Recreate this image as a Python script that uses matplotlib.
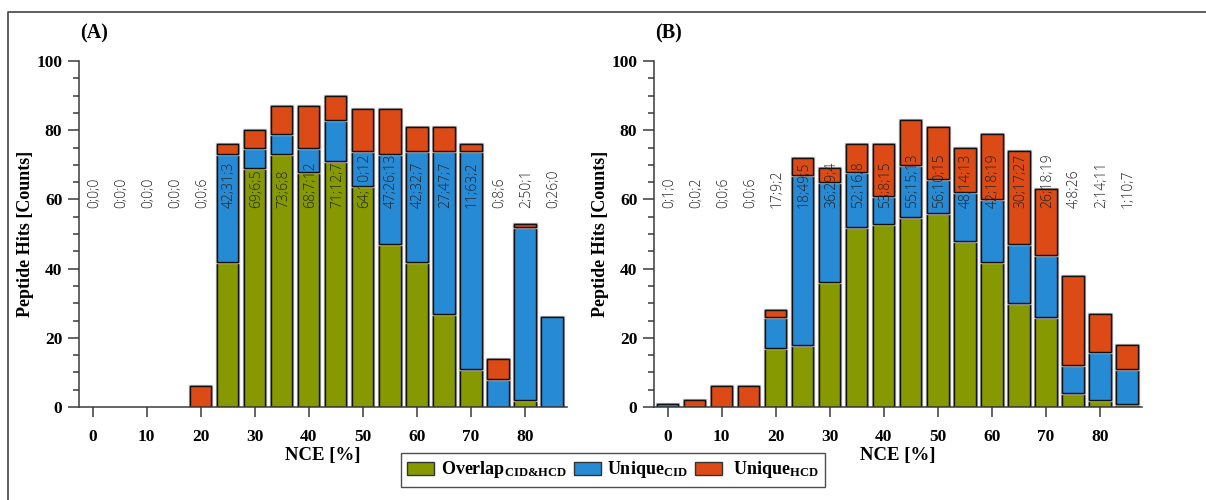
import numpy as np
import matplotlib
matplotlib.use("Agg")
import matplotlib.pyplot as plt
import matplotlib.ticker as ticker
import matplotlib.patheffects as pe
from matplotlib.lines import Line2D
from matplotlib.patches import Patch

plt.rcParams['mathtext.fontset'] = 'custom'
plt.rcParams['mathtext.rm'] = 'Liberation Serif:bold'
plt.rcParams['mathtext.it'] = 'Liberation Serif:bold'
plt.rcParams['mathtext.bf'] = 'Liberation Serif:bold'
plt.rcParams['mathtext.default'] = 'rm'

# NCE steps (%)
nce = [0, 5, 10, 15, 20, 25, 30, 35, 40, 45, 50, 55, 60, 65, 70, 75, 80, 85]

# (A) overlap / unique CID / unique HCD
overlap_a = [0, 0, 0, 0, 0, 42, 69, 73, 68, 71, 64, 47, 42, 27, 11, 0, 2, 0]
cid_a = [0, 0, 0, 0, 0, 31, 6, 6, 7, 12, 10, 26, 32, 47, 63, 8, 50, 26]
hcd_a = [0, 0, 0, 0, 6, 3, 5, 8, 12, 7, 12, 13, 7, 7, 2, 6, 1, 0]

# (B) overlap / unique CID / unique HCD
overlap_b = [0, 0, 0, 0, 17, 18, 36, 52, 53, 55, 56, 48, 42, 30, 26, 4, 2, 1]
cid_b = [1, 0, 0, 0, 9, 49, 29, 16, 8, 15, 10, 14, 18, 17, 18, 8, 14, 10]
hcd_b = [0, 2, 6, 6, 2, 5, 4, 8, 15, 13, 15, 13, 19, 27, 19, 26, 11, 7]

c_ovl = '#879900'
c_cid = '#268AD5'
c_hcd = '#DC4A15'
c_axis = '#3a3a3a'

serif = 'Liberation Serif'
shadow = [pe.withStroke(linewidth=2.4, foreground='#c0c0c0')]


def draw_panel(ax, overlap, cid, hcd, tag):
    x = np.array(nce)
    ov = np.array(overlap)
    ci = np.array(cid)
    hc = np.array(hcd)
    kw = dict(width=4, edgecolor='#111111', linewidth=1.0)
    for vals, bottom, col in ((ov, 0, c_ovl), (ci, ov, c_cid), (hc, ov + ci, c_hcd)):
        bars = ax.bar(x, vals, bottom=bottom, color=col, **kw)
        for b, v in zip(bars, vals):
            if v == 0:
                b.set_visible(False)
            else:
                b.set_path_effects(shadow + [pe.Normal()])
    # Zahlenangaben an jeder Säule
    for xi, a, b, c in zip(x, ov, ci, hc):
        ax.text(xi + 0.3, 57.5, "%d;%d;%d" % (a, b, c), rotation=90,
                ha='center', va='bottom', fontsize=10, color='#222222',
                family=['Open Sans', 'DejaVu Sans'], fontweight='light')

    ax.set_xlim(-2.5, 87.8)
    ax.set_ylim(0, 100)
    ax.xaxis.set_major_locator(ticker.FixedLocator(range(0, 81, 10)))
    ax.yaxis.set_major_locator(ticker.MultipleLocator(20))
    ax.yaxis.set_minor_locator(ticker.MultipleLocator(5))
    for s in ('top', 'right'):
        ax.spines[s].set_visible(False)
    for s in ('left', 'bottom'):
        ax.spines[s].set_color(c_axis)
        ax.spines[s].set_linewidth(1.1)
    ax.tick_params(axis='y', which='major', direction='out', length=8,
                   width=1.1, color=c_axis, pad=4)
    ax.tick_params(axis='y', which='minor', direction='out', length=4.5,
                   width=1.1, color=c_axis)
    ax.tick_params(axis='x', which='major', direction='out', length=7,
                   width=1.1, color=c_axis, pad=9)
    for lab in ax.get_xticklabels() + ax.get_yticklabels():
        lab.set_fontfamily(serif)
        lab.set_fontweight('bold')
        lab.set_fontsize(12.5)
    ax.set_ylabel("Peptide Hits [Counts]", family=serif, fontweight='bold',
                  fontsize=13, labelpad=2)
    ax.set_xlabel("NCE [%]", family=serif, fontweight='bold', fontsize=13.5,
                  labelpad=1)
    ax.text(0.03, 1.08, tag, transform=ax.transAxes, family=serif,
            fontweight='bold', fontsize=14.5, ha='center', va='center')


fig = plt.figure(figsize=(12.06, 5.0), dpi=100)
ax_a = fig.add_axes((0.0655, 0.186, 0.4046, 0.692))
ax_b = fig.add_axes((0.5423, 0.186, 0.4046, 0.692))
draw_panel(ax_a, overlap_a, cid_a, hcd_a, "(A)")
draw_panel(ax_b, overlap_b, cid_b, hcd_b, "(B)")

# Rahmen um die Abbildung
fx = 8 / 1206
fy = 1 - 12 / 500
fig.add_artist(Line2D([fx, fx, 1.0], [0.0, fy, fy], transform=fig.transFigure,
                      color='#444444', linewidth=1.2))

handles = [Patch(facecolor=c_ovl, edgecolor='#333333'),
           Patch(facecolor=c_cid, edgecolor='#333333'),
           Patch(facecolor=c_hcd, edgecolor='#333333')]
labels = [r"Overlap$_{CID&HCD}$", r"Unique$_{CID}$",
          r" Unique$_{HCD}$"]
leg = fig.legend(handles, labels, loc='center', bbox_to_anchor=(613 / 1206, 1 - 470 / 500),
                 ncol=3, frameon=True, fancybox=False, edgecolor='#222222',
                 prop={'family': serif, 'weight': 'bold', 'size': 13},
                 handlelength=1.5, handleheight=0.75, columnspacing=0.4,
                 handletextpad=0.35, borderpad=0.35, borderaxespad=0)
leg.get_frame().set_linewidth(1.0)

fig.savefig("out.png", dpi=100)
